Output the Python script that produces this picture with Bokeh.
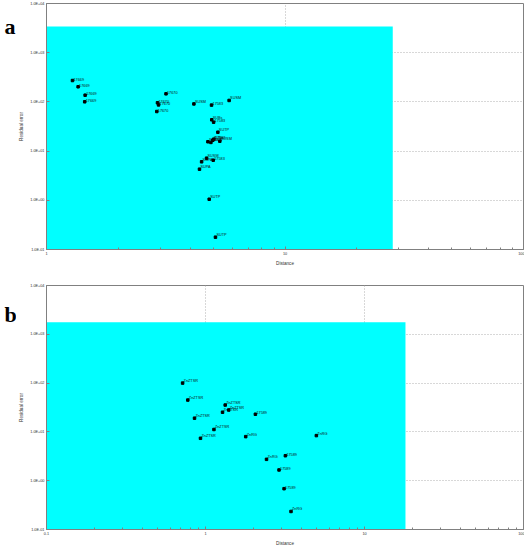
from bokeh.plotting import figure
from bokeh.models import Range1d, FixedTicker
from bokeh.layouts import column, row
from bokeh.core.properties import value
from bokeh.embed import file_html
from bokeh.resources import INLINE

# ---------------- data: panel a ----------------
a_x = [1.285, 1.357, 1.452, 1.446, 3.17, 2.92, 2.95, 2.90, 4.15, 4.92, 5.83,
       4.93, 5.02, 5.23, 4.75, 4.89, 5.03, 4.98, 5.33, 4.69, 5.00, 4.47, 4.38, 4.81, 5.11]
a_y = [272, 203, 137, 100.5, 146, 96, 87, 63.8, 91, 86, 107,
       43.3, 38.7, 24.2, 15.5, 15.0, 17.5, 16.6, 15.9, 7.18, 6.53, 6.06, 4.29, 1.05, 0.178]
a_lab = ["17669", "17669", "17669", "17669", "17670", "17670", "17670", "17670", "SUSM", "17583", "SUSM",
         "SUBs", "17583", "SUTP", "SUBs", "SUPA", "17583", "SUBs", "SUSM", "SUSM", "17583", "SUPA", "SUPA", "SUTP", "SUTP"]
a_shade_xmax = 28.3
a_shade_ymax = 3400
a_xticks = [1, 10, 100]
a_xtick_labels = ["1", "10", "100"]

# ---------------- data: panel b ----------------
b_x = [0.718, 0.774, 0.853, 1.13, 0.93, 1.33, 1.28, 1.40, 2.06, 1.79, 4.98, 2.42, 3.18, 2.90, 3.12, 3.45]
b_y = [100, 44.9, 19.1, 11.2, 7.4, 35.5, 25.3, 28.1, 23.0, 8.0, 8.4, 2.74, 3.25, 1.66, 0.686, 0.234]
b_lab = ["ZnZTSR", "ZnZTSR", "ZnZTSR", "ZnZTSR", "ZnZTSR", "ZnZTSR", "ZnZTSR", "ZnZTSR",
         "17589", "ZnRG", "ZnRG", "ZnRG", "17589", "17589", "17589", "ZnRG"]
b_shade_xmax = 18.1
b_shade_ymax = 1760
b_xticks = [0.1, 1, 10, 100]
b_xtick_labels = ["0.1", "1", "10", "100"]

y_ticks = [0.1, 1, 10, 100, 1000, 10000]
y_tick_labels = ["1.0E-01", "1.0E+00", "1.0E+01", "1.0E+02", "1.0E+03", "1.0E+04"]

panel_letters = ["a", "b"]

FONT = "Liberation Sans"
LETTER_W = 16


def minor_list(lo, hi):
    out = []
    d = lo
    while d < hi:
        for k in range(2, 10):
            out.append(d * k)
        d *= 10
    return out


def letter_fig(letter, height, baseline_from_top):
    f = figure(width=LETTER_W, height=height, x_range=Range1d(0, LETTER_W),
               y_range=Range1d(0, height), output_backend="svg", toolbar_location=None,
               min_border=0, min_border_left=0, min_border_right=0,
               min_border_top=0, min_border_bottom=0)
    f.axis.visible = False
    f.grid.visible = False
    f.outline_line_color = None
    f.background_fill_color = "white"
    f.border_fill_color = "white"
    f.text(x=[4], y=[height - baseline_from_top], text=[letter],
           text_font=value("Liberation Serif"), text_font_size="22px",
           text_font_style="bold", text_color="black",
           text_align="left", text_baseline="alphabetic")
    return f


def make_panel(xs, ys, labs, xlo, xhi, xticks, xlabels, sx, sy, top_border, bottom_border, height):
    p = figure(width=524 - LETTER_W, height=height, x_axis_type="log", y_axis_type="log",
               x_range=Range1d(xlo, xhi), y_range=Range1d(0.1, 1e4),
               output_backend="svg", toolbar_location=None,
               min_border_left=45 - LETTER_W, min_border_right=1, min_border_top=top_border,
               min_border_bottom=bottom_border)
    p.background_fill_color = "white"
    p.border_fill_color = "white"
    p.outline_line_color = "#808080"

    p.quad(left=[xlo], right=[sx], bottom=[0.1], top=[sy],
           fill_color="#00FFFF", line_color=None)
    p.scatter(xs, ys, marker="square", size=2.5, color="black")
    p.text(xs, ys, text=labs, text_font=value(FONT), text_font_size="3.8px",
           text_color="#111111", text_align="left", text_baseline="bottom",
           x_offset=1, y_offset=0)

    p.xaxis.ticker = FixedTicker(ticks=xticks, minor_ticks=minor_list(xlo, xhi))
    p.xaxis.major_label_overrides = {t: l for t, l in zip(xticks, xlabels)}
    p.yaxis.ticker = FixedTicker(ticks=y_ticks, minor_ticks=[])
    p.yaxis.major_label_overrides = {t: l for t, l in zip(y_ticks, y_tick_labels)}

    for ax in (p.xaxis[0], p.yaxis[0]):
        ax.axis_line_color = "#808080"
        ax.major_tick_line_color = "#808080"
        ax.minor_tick_line_color = "#808080"
        ax.major_tick_in = 3
        ax.major_tick_out = 0
        ax.minor_tick_in = 2
        ax.minor_tick_out = 0
        ax.major_label_text_font = FONT
        ax.major_label_text_font_size = "3.8px"
        ax.major_label_text_color = "#333333"
        ax.major_label_standoff = 2
        ax.axis_label_text_font = FONT
        ax.axis_label_text_font_size = "4.6px"
        ax.axis_label_text_font_style = "normal"
        ax.axis_label_text_color = "#333333"
        ax.axis_label_standoff = 3
    p.xaxis.axis_label = "Distance"
    p.yaxis.axis_label = "Residual error"

    p.grid.grid_line_color = "#b0b0b0"
    p.grid.grid_line_dash = "1 2"
    p.grid.grid_line_width = 1
    p.xgrid.ticker = FixedTicker(ticks=xticks)
    p.ygrid.ticker = FixedTicker(ticks=y_ticks)
    return p


HA, HB = 270, 278
pa = make_panel(a_x, a_y, a_lab, 1, 100, a_xticks, a_xtick_labels,
                a_shade_xmax, a_shade_ymax, 3, 21, HA)
pb = make_panel(b_x, b_y, b_lab, 0.1, 100, b_xticks, b_xtick_labels,
                b_shade_xmax, b_shade_ymax, 15, 16, HB)
la = letter_fig(panel_letters[0], HA, 25)
lb = letter_fig(panel_letters[1], HB, 33)

layout = column(row(la, pa, spacing=0), row(lb, pb, spacing=0), spacing=0)
open("out.html", "w").write(file_html(layout, INLINE))
